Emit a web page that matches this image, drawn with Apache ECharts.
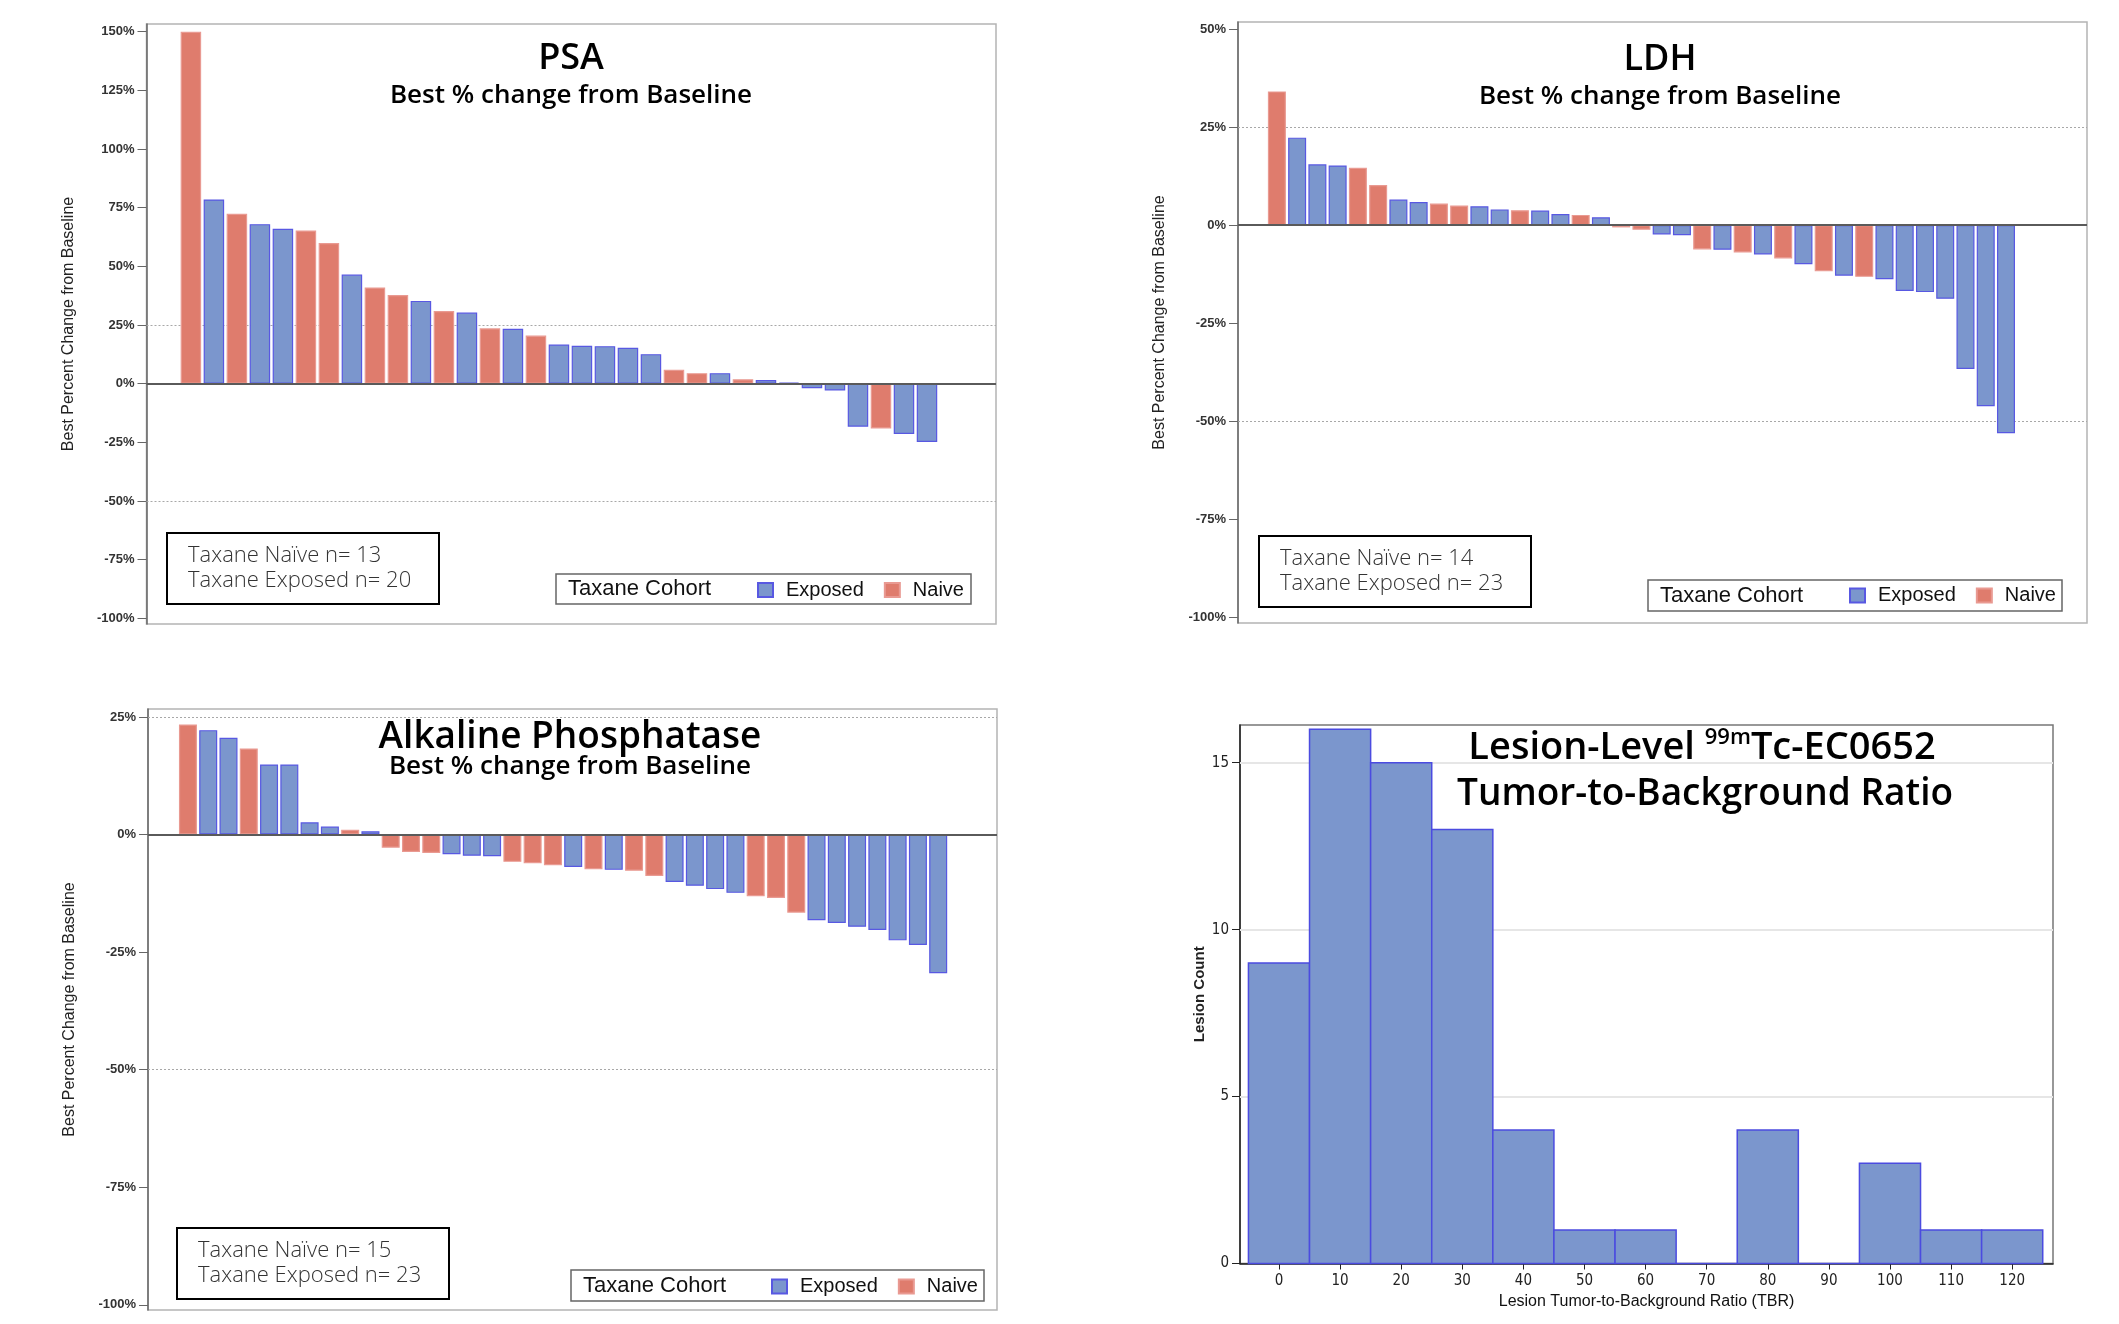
<!DOCTYPE html>
<html>
<head>
<meta charset="UTF-8">
<title>Best % change from Baseline / TBR</title>
<script src="https://cdn.jsdelivr.net/npm/echarts@6/dist/echarts.min.js"></script>
<style>
html, body {margin:0; padding:0; background:#fff;}
#main {width:2119px; height:1324px;}
</style>
</head>
<body>
<div id="main"></div>
<script>
// best % change per patient, sorted high -> low; E = taxane exposed, N = taxane naive
var psaValues = [150, 78.5, 72.4, 68, 66, 65.3, 60, 46.5, 41, 37.8, 35.3, 31, 30.3, 23.6, 23.4, 20.5, 16.7, 16.2, 16, 15.3, 12.6, 6, 4.5, 4.5, 1.9, 1.6, 0.5, -1.9, -2.9, -18.3, -19.1, -21.4, -24.8];
var psaCohort = ['N','E','N','E','E','N','N','E','N','N','E','N','E','N','E','N','E','E','E','E','E','N','N','E','N','E','E','E','E','E','N','E','E'];

var ldhValues = [34.1, 22.3, 15.5, 15.2, 14.6, 10.2, 6.5, 5.9, 5.5, 5, 4.8, 4, 3.8, 3.7, 2.8, 2.6, 2, -0.6, -1.2, -2.4, -2.6, -6.2, -6.3, -7, -7.5, -8.5, -10, -11.8, -12.9, -13.2, -13.8, -16.8, -17.1, -18.8, -36.7, -46.2, -53.1];
var ldhCohort = ['N','E','E','E','N','N','E','E','N','N','E','E','N','E','E','N','E','N','N','E','E','N','E','N','E','N','E','N','E','N','E','E','E','E','E','E','E'];

var alpValues = [23.4, 22.2, 20.6, 18.3, 14.9, 14.9, 2.6, 1.7, 1, 0.7, -2.8, -3.7, -3.9, -4.2, -4.5, -4.6, -5.8, -6.1, -6.5, -6.9, -7.4, -7.5, -7.7, -8.8, -10.1, -10.9, -11.6, -12.4, -13.1, -13.5, -16.6, -18.2, -18.8, -19.6, -20.3, -22.5, -23.5, -29.5];
var alpCohort = ['N','E','E','N','E','E','E','E','N','E','N','N','N','E','E','E','N','N','N','E','N','E','N','N','E','E','E','E','N','N','N','E','E','E','E','E','E','E'];

var psaTicks = [-100, -75, -50, -25, 0, 25, 50, 75, 100, 125, 150];
var ldhTicks = [-100, -75, -50, -25, 0, 25, 50];
var alpTicks = [-100, -75, -50, -25, 0, 25];

// lesion-level TBR histogram
var tbrBins = [0, 10, 20, 30, 40, 50, 60, 70, 80, 90, 100, 110, 120];
var tbrCounts = [9, 16, 15, 13, 4, 1, 1, 0, 4, 0, 3, 1, 1];
var countTicks = [0, 5, 10, 15];

var myChart = echarts.init(document.getElementById('main'), null, {renderer: 'canvas'});

var TITLE_FONT = '"Open Sans", "DejaVu Sans", sans-serif';
var ARIAL = '"Liberation Sans", Arial, sans-serif';
var NARROW = '"Liberation Sans Narrow", "DejaVu Sans Condensed", "Liberation Sans", sans-serif';

var exposedStyle = {color: '#7b96cd', borderColor: '#5858e2', borderWidth: 1.2};
var naiveStyle = {color: '#df7c6d', borderColor: '#e99a92', borderWidth: 1.2};

function pick(values, cohort, code) {
    var out = [];
    for (var i = 0; i < values.length; i++) {
        if (cohort[i] === code) out.push([i + 1, values[i]]);
    }
    return out;
}

function waterfallSeries(idx, values, cohort, barW) {
    return [{
        name: 'Exposed', type: 'bar', xAxisIndex: idx, yAxisIndex: idx,
        data: pick(values, cohort, 'E'), barWidth: barW, barGap: '-100%',
        itemStyle: exposedStyle,
        markLine: {
            silent: true, symbol: ['none', 'none'], z: 1, label: {show: false},
            lineStyle: {color: '#a8a8a8', type: [2, 2], width: 1},
            data: [{yAxis: 25}, {yAxis: -50}]
        }
    }, {
        name: 'Naive', type: 'bar', xAxisIndex: idx, yAxisIndex: idx,
        data: pick(values, cohort, 'N'), barWidth: barW, barGap: '-100%',
        itemStyle: naiveStyle,
        markLine: {
            silent: true, symbol: ['none', 'none'], label: {show: false},
            lineStyle: {color: '#5a5a5a', type: 'solid', width: 2},
            data: [{yAxis: 0}]
        }
    }];
}

function indexAxis(idx, lo, hi) {
    return {type: 'value', gridIndex: idx, min: lo, max: hi, show: false};
}

function pctAxis(idx, lo, hi, ticks) {
    return {
        type: 'value', gridIndex: idx, min: lo, max: hi,
        name: 'Best Percent Change from Baseline', nameLocation: 'middle', nameGap: 70,
        nameTextStyle: {fontFamily: ARIAL, fontSize: 16, color: '#222'},
        axisLine: {show: true, onZero: false, lineStyle: {color: '#666', width: 1.5}},
        axisTick: {show: true, length: 9, customValues: ticks, lineStyle: {color: '#666'}},
        axisLabel: {customValues: ticks, formatter: '{value}%', margin: 12,
            fontFamily: ARIAL, fontSize: 13, fontWeight: 'bold', color: '#333'},
        splitLine: {show: false}
    };
}

function legendAt(left, top) {
    return {
        data: ['Exposed', 'Naive'], left: left, top: top, padding: 0, z: 20,
        orient: 'horizontal', icon: 'rect', itemWidth: 15, itemHeight: 14, itemGap: 20,
        selectedMode: false,
        textStyle: {fontFamily: ARIAL, fontSize: 20, color: '#111', padding: [0, 0, 0, 8]}
    };
}

function nBox(x, y, naive, exposed) {
    return [{
        type: 'rect', shape: {x: x, y: y, width: 272, height: 71},
        style: {fill: '#fff', stroke: '#000', lineWidth: 2}, z: 10
    }, {
        type: 'text', x: x + 21, y: y + 10.5, z: 11,
        style: {
            text: 'Taxane Naïve n= ' + naive + '\nTaxane Exposed n= ' + exposed,
            fontFamily: TITLE_FONT, fontSize: 22, fontWeight: 300, lineHeight: 25,
            fill: '#333', align: 'left', verticalAlign: 'top'
        }
    }];
}

function cohortBox(x, y, w, h) {
    return [{
        type: 'rect', shape: {x: x, y: y, width: w, height: h},
        style: {fill: 'none', stroke: '#666', lineWidth: 1.5}, z: 10
    }, {
        type: 'text', x: x + 12, y: y + h / 2, z: 11,
        style: {text: 'Taxane Cohort', fontFamily: ARIAL, fontSize: 22, fill: '#111',
            align: 'left', verticalAlign: 'middle'}
    }];
}

function titleText(x, y, text, size) {
    return {
        type: 'text', x: x, y: y, z: 11,
        style: {text: text, fontFamily: TITLE_FONT, fontSize: size, fontWeight: 600, fill: '#000',
            align: 'center', verticalAlign: 'middle'}
    };
}

var graphics = [].concat(
    cohortBox(556, 574, 415, 30),
    cohortBox(1648, 580, 414, 31),
    cohortBox(571, 1270, 413, 31),
    nBox(167, 533, 13, 20),
    nBox(1259, 536, 14, 23),
    nBox(177, 1228, 15, 23),
    [
        titleText(571, 59, 'PSA', 36),
        titleText(571, 95.5, 'Best % change from Baseline', 26),
        titleText(1660, 60, 'LDH', 36),
        titleText(1660, 97, 'Best % change from Baseline', 26),
        titleText(570, 737, 'Alkaline Phosphatase', 37),
        titleText(570, 766.5, 'Best % change from Baseline', 26),
        {
            type: 'text', x: 1702, y: 748.5, z: 11,
            style: {
                text: '{a|Lesion-Level }{s|99m}{a|Tc-EC0652}',
                fontFamily: TITLE_FONT, fontSize: 38, fontWeight: 600, fill: '#000',
                align: 'center', verticalAlign: 'middle',
                rich: {
                    a: {fontFamily: TITLE_FONT, fontSize: 38, fontWeight: 600, lineHeight: 44},
                    s: {fontFamily: TITLE_FONT, fontSize: 22, fontWeight: 600, lineHeight: 32, verticalAlign: 'top'}
                }
            }
        },
        titleText(1705, 794, 'Tumor-to-Background Ratio', 37)
    ]
);

var histSeries = {
    name: 'Lesions', type: 'custom', xAxisIndex: 3, yAxisIndex: 3,
    data: tbrBins.map(function (b, i) { return [b, tbrCounts[i]]; }),
    encode: {x: 0, y: 1},
    renderItem: function (params, api) {
        var half = (tbrBins[1] - tbrBins[0]) / 2;
        var x = api.value(0), y = api.value(1);
        var p0 = api.coord([x - half, y]);
        var p1 = api.coord([x + half, 0]);
        return {
            type: 'rect',
            shape: {x: p0[0], y: p0[1], width: p1[0] - p0[0], height: p1[1] - p0[1]},
            style: {fill: '#7b96cd', stroke: '#4b4be0', lineWidth: 1.5}
        };
    },
    markLine: {
        silent: true, symbol: ['none', 'none'], z: 1, label: {show: false},
        lineStyle: {color: '#e6e6e6', type: 'solid', width: 2},
        data: countTicks.filter(function (t) { return t > 0; }).map(function (t) { return {yAxis: t}; })
    }
};

var option = {
    animation: false,
    backgroundColor: '#fff',
    grid: [
        {left: 146.5, top: 24, width: 849.5, height: 600, show: true, borderColor: '#b4b4b4', borderWidth: 1.5},
        {left: 1238, top: 22, width: 849, height: 601, show: true, borderColor: '#b4b4b4', borderWidth: 1.5},
        {left: 148, top: 709, width: 849, height: 601, show: true, borderColor: '#b4b4b4', borderWidth: 1.5},
        {left: 1240, top: 725, width: 813, height: 538.5, show: true, borderColor: '#777', borderWidth: 1.5}
    ],
    xAxis: [
        indexAxis(0, -0.93, 36.0),
        indexAxis(1, -0.92, 41.0),
        indexAxis(2, -0.97, 40.9),
        {
            type: 'value', gridIndex: 3, min: -6.38, max: 126.68,
            name: 'Lesion Tumor-to-Background Ratio (TBR)', nameLocation: 'middle', nameGap: 30,
            nameTextStyle: {fontFamily: ARIAL, fontSize: 16, color: '#111'},
            axisLine: {show: true, onZero: false, lineStyle: {color: '#222', width: 1.5}},
            axisTick: {show: true, length: 6, customValues: tbrBins, lineStyle: {color: '#222'}},
            axisLabel: {customValues: tbrBins, margin: 10, fontFamily: NARROW, fontSize: 15, color: '#222'},
            splitLine: {show: false}
        }
    ],
    yAxis: [
        pctAxis(0, -102.4, 153.3, psaTicks),
        pctAxis(1, -101.5, 51.8, ldhTicks),
        pctAxis(2, -101.1, 26.7, alpTicks),
        {
            type: 'value', gridIndex: 3, min: 0, max: 16.13,
            name: 'Lesion Count', nameLocation: 'middle', nameGap: 33,
            nameTextStyle: {fontFamily: ARIAL, fontSize: 15, fontWeight: 'bold', color: '#222'},
            axisLine: {show: true, onZero: false, lineStyle: {color: '#222', width: 1.5}},
            axisTick: {show: true, length: 8, customValues: countTicks, lineStyle: {color: '#222'}},
            axisLabel: {customValues: countTicks, margin: 11, fontFamily: NARROW, fontSize: 15, color: '#222'},
            splitLine: {show: false}
        }
    ],
    legend: [legendAt(757, 580), legendAt(1849, 585.5), legendAt(771, 1276.5)],
    graphic: graphics,
    series: [].concat(
        waterfallSeries(0, psaValues, psaCohort, 20.5),
        waterfallSeries(1, ldhValues, ldhCohort, 18),
        waterfallSeries(2, alpValues, alpCohort, 18),
        [histSeries]
    )
};

myChart.setOption(option);
</script>
</body>
</html>
